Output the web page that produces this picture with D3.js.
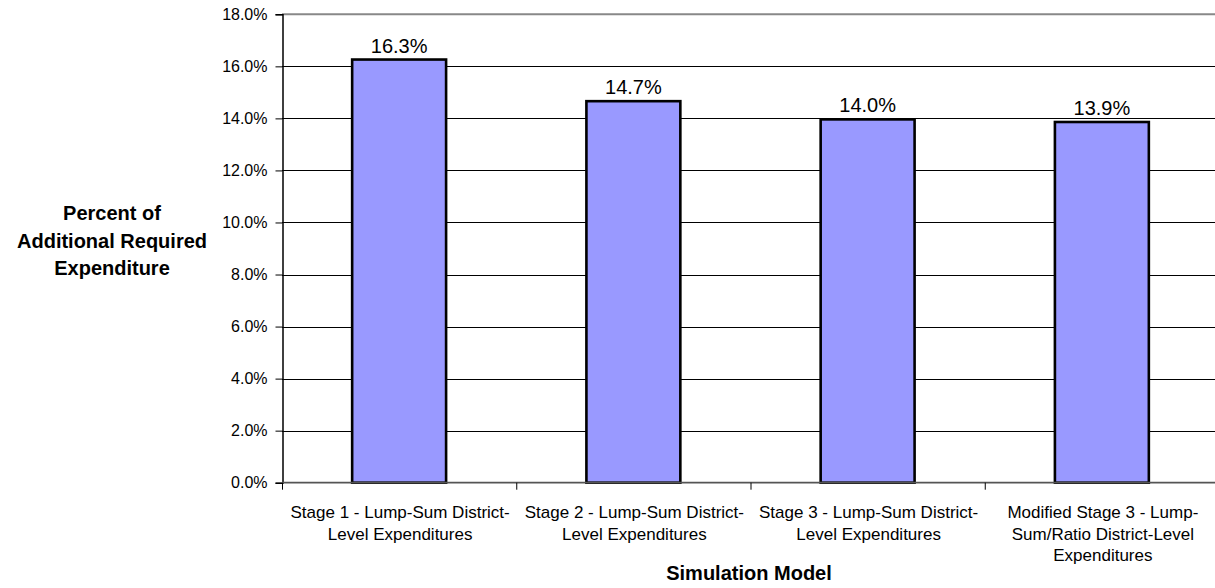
<!DOCTYPE html>
<html><head><meta charset="utf-8">
<script src="https://cdn.jsdelivr.net/npm/d3@7"></script>
<style>body{margin:0;background:#fff}svg{display:block}text{font-family:Arial,"Liberation Sans",sans-serif}</style>
</head><body><svg id="c" width="1215" height="588"></svg>
<script>
const categories = [
  ["Stage 1 - Lump-Sum District-", "Level Expenditures"],
  ["Stage 2 - Lump-Sum District-", "Level Expenditures"],
  ["Stage 3 - Lump-Sum District-", "Level Expenditures"],
  ["Modified Stage 3 - Lump-", "Sum/Ratio District-Level", "Expenditures"]
];
const values = [16.3, 14.7, 14.0, 13.9];
const yTicks = [0, 2, 4, 6, 8, 10, 12, 14, 16, 18];
const yTitle = ["Percent of", "Additional Required", "Expenditure"];
const xTitle = "Simulation Model";

const svg = d3.select("#c");
const L = 282, R = 1219, T = 14.3, B = 482.7;
const x = d3.scaleBand().domain(d3.range(categories.length)).range([L, R]).paddingInner(0).paddingOuter(0);
const y = d3.scaleLinear().domain([0, 18]).range([B, T]);

// gridlines
svg.append("g").selectAll("line").data(yTicks.filter(t => t > 0 && t < 18)).join("line")
  .attr("x1", L).attr("x2", R).attr("y1", d => Math.round(y(d)) + 0.5).attr("y2", d => Math.round(y(d)) + 0.5)
  .attr("stroke", "#000").attr("stroke-width", 1.2);
svg.append("line").attr("x1", L).attr("x2", R).attr("y1", y(18)).attr("y2", y(18))
  .attr("stroke", "#888").attr("stroke-width", 2);

// y axis
const yAxis = d3.axisLeft(y).tickValues(yTicks).tickFormat(d => d.toFixed(1) + "%").tickSize(7).tickPadding(8);
const gy = svg.append("g").attr("transform", `translate(${L + 0.5},0)`).call(yAxis);
gy.select(".domain").attr("stroke", "#000").attr("stroke-width", 1.5);
gy.selectAll(".tick line").attr("stroke", "#000");
gy.selectAll("text").attr("font-size", 16).attr("fill", "#000");

// bars
const bw = x.bandwidth() * 0.401;
svg.append("g").selectAll("rect").data(values).join("rect")
  .attr("x", (d, i) => x(i) + x.bandwidth() / 2 - bw / 2)
  .attr("y", d => y(d) + 1)
  .attr("width", bw)
  .attr("height", d => B - y(d) - 1)
  .attr("fill", "#9999FF").attr("stroke", "#000").attr("stroke-width", 2.6);

// x axis
svg.append("line").attr("x1", L).attr("x2", R).attr("y1", B).attr("y2", B)
  .attr("stroke", "#555").attr("stroke-width", 1.8);
svg.append("g").selectAll("line").data(d3.range(categories.length)).join("line")
  .attr("x1", i => x(i) + 0.5).attr("x2", i => x(i) + 0.5)
  .attr("y1", B).attr("y2", B + 7).attr("stroke", "#000");

// data labels
svg.append("g").selectAll("text").data(values).join("text")
  .attr("x", (d, i) => x(i) + x.bandwidth() / 2)
  .attr("y", d => y(d) - 6)
  .attr("text-anchor", "middle").attr("font-size", 20).attr("fill", "#000")
  .text(d => d.toFixed(1) + "%");

// category labels
const cl = svg.append("g");
categories.forEach((lines, i) => {
  lines.forEach((t, j) => {
    cl.append("text").attr("x", x(i) + x.bandwidth() / 2 + 1).attr("y", 518 + j * 21.5)
      .attr("text-anchor", "middle").attr("font-size", 17).attr("fill", "#000").text(t);
  });
});

// titles
yTitle.forEach((t, j) => {
  svg.append("text").attr("x", 112).attr("y", 220 + j * 27.5).attr("text-anchor", "middle")
    .attr("font-size", 20).attr("font-weight", "bold").text(t);
});
svg.append("text").attr("x", 749).attr("y", 580).attr("text-anchor", "middle")
  .attr("font-size", 20).attr("font-weight", "bold").text(xTitle);
</script></body></html>
